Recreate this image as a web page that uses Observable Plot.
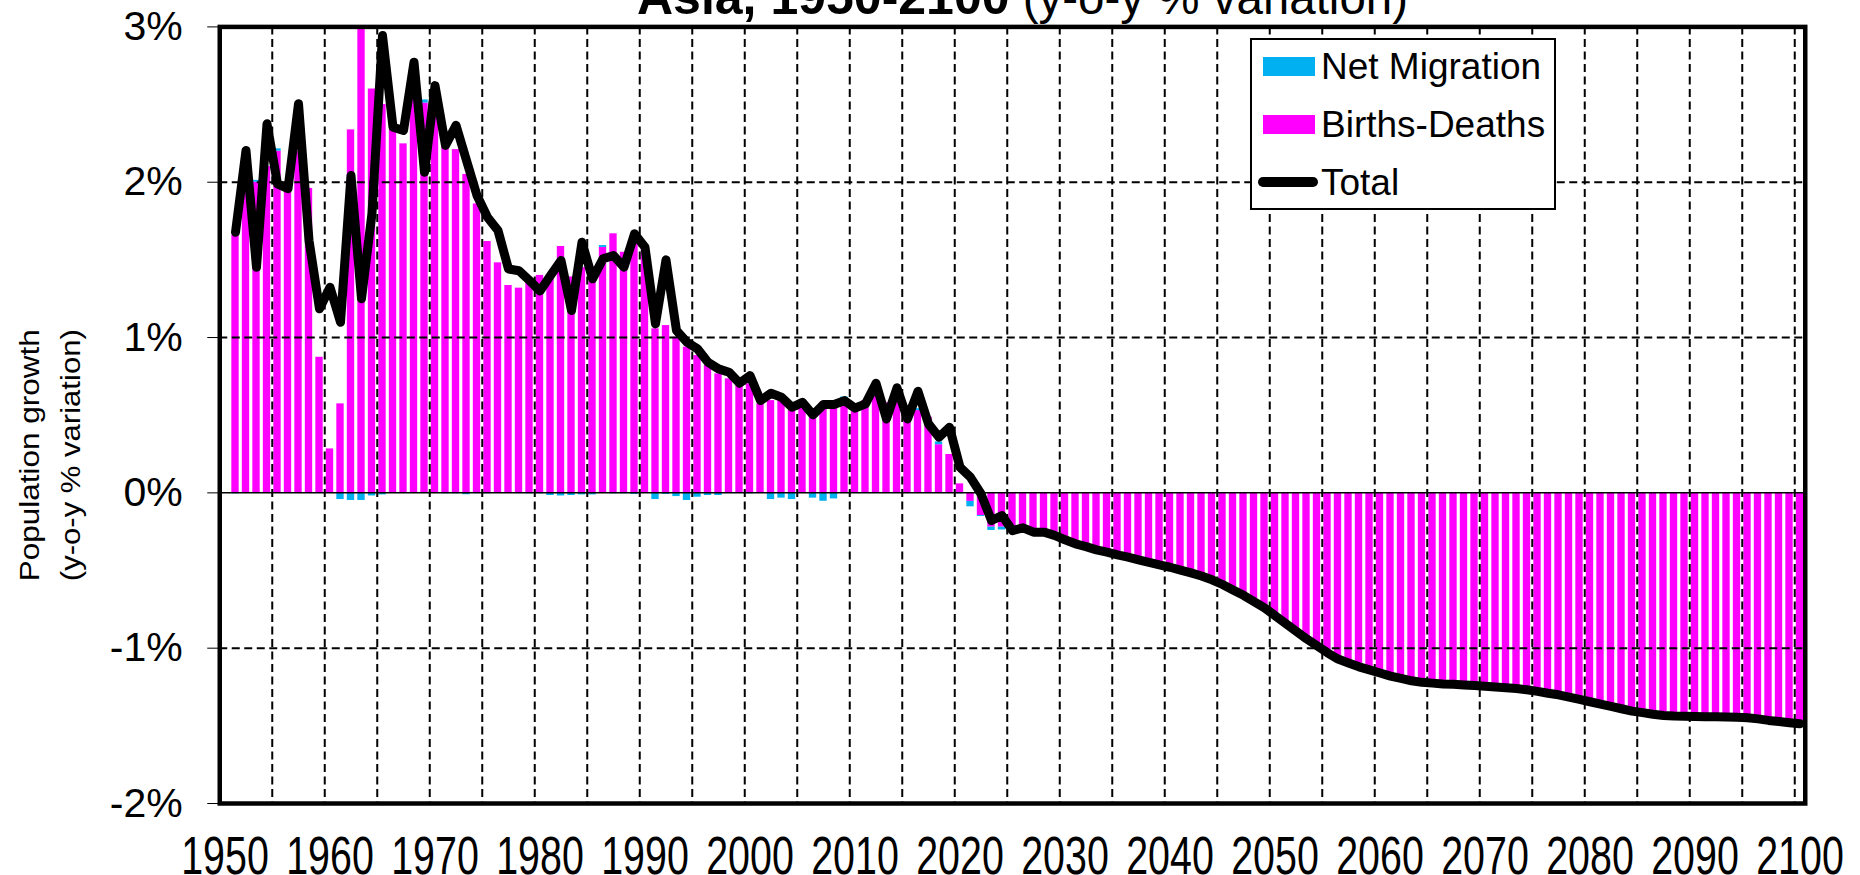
<!DOCTYPE html>
<html>
<head>
<meta charset="utf-8">
<script src="https://cdn.jsdelivr.net/npm/d3@7"></script>
<script src="https://cdn.jsdelivr.net/npm/@observablehq/plot@0.6"></script>
<style>
  html, body { margin: 0; padding: 0; background: #fff; }
  #wrap { position: relative; width: 1860px; height: 875px; overflow: hidden;
          font-family: "Liberation Sans", Arial, sans-serif; color: #000; }
  #chart { position: absolute; left: 0; top: 0; }
  #title { position: absolute; left: 637px; top: -28px; font-size: 50px; line-height: 50px; white-space: nowrap; }
  #title .reg { font-size: 47.5px; }
  #legend { position: absolute; left: 1250px; top: 38px; width: 302px; height: 168px;
            border: 2px solid #000; background: #fff; }
  #legend .sw { position: absolute; left: 11px; width: 52px; height: 19px; }
  #legend .ln { position: absolute; left: 6px; width: 60px; height: 10px; border-radius: 5px; background: #000; }
  #legend .tx { position: absolute; left: 69px; font-size: 37px; line-height: 37px; white-space: nowrap; }
</style>
</head>
<body>
<div id="wrap">
  <div id="chart"></div>
  <div id="title"><b>Asia, 1950-2100</b><span class="reg"> (y-o-y % variation)</span></div>
  <div id="legend"></div>
</div>
<script>
// ---------- data ----------
const years = d3.range(1951, 2101);
const decadeLabels = d3.range(1950, 2101, 10);
const yTicks = [-2, -1, 0, 1, 2, 3];
const seriesNames = ["Net Migration", "Births-Deaths"];
const seriesColors = ["#00B0F0", "#FF00FF"];
const totalName = "Total";
const yTitleLines = ["Population growth", "(y-o-y % variation)"];

// Total population growth, % (line)
const total = [
  1.678, 2.204, 1.453, 2.376, 1.989, 1.958, 2.505, 1.625, 1.185, 1.324,
  1.099, 2.043, 1.250, 1.800, 2.944, 2.354, 2.333, 2.773, 2.064, 2.622,
  2.237, 2.366, 2.140, 1.914, 1.775, 1.689, 1.441, 1.430, 1.367, 1.300,
  1.399, 1.496, 1.174, 1.614, 1.378, 1.507, 1.528, 1.453, 1.668, 1.581,
  1.088, 1.500, 1.045, 0.970, 0.927, 0.841, 0.798, 0.777, 0.706, 0.755,
  0.594, 0.641, 0.616, 0.551, 0.583, 0.502, 0.569, 0.569, 0.594, 0.545,
  0.573, 0.706, 0.476, 0.676, 0.476, 0.654, 0.444, 0.358, 0.422, 0.165,
  0.100, -0.006, -0.178, -0.146, -0.243, -0.225, -0.253, -0.253, -0.274, -0.302,
  -0.328, -0.346, -0.367, -0.382, -0.399, -0.414, -0.431, -0.447, -0.464, -0.479,
  -0.497, -0.515, -0.535, -0.560, -0.590, -0.625, -0.660, -0.700, -0.740, -0.790,
  -0.840, -0.890, -0.940, -0.985, -1.030, -1.070, -1.095, -1.120, -1.140, -1.160,
  -1.180, -1.195, -1.210, -1.220, -1.225, -1.230, -1.233, -1.237, -1.241, -1.245,
  -1.250, -1.255, -1.260, -1.268, -1.278, -1.290, -1.300, -1.315, -1.330, -1.345,
  -1.360, -1.375, -1.390, -1.405, -1.415, -1.425, -1.433, -1.437, -1.439, -1.440,
  -1.441, -1.442, -1.443, -1.445, -1.448, -1.455, -1.465, -1.472, -1.480, -1.487
];

// Births-Deaths, % (magenta bars)
const birthsDeaths = [
  1.657, 1.980, 2.000, 2.100, 2.200, 1.970, 2.200, 1.960, 0.873, 0.283,
  0.573, 2.337, 3.000, 2.600, 2.500, 2.340, 2.247, 2.550, 2.510, 2.470,
  2.230, 2.210, 2.050, 1.860, 1.618, 1.481, 1.335, 1.318, 1.360, 1.400,
  1.406, 1.586, 1.390, 1.450, 1.360, 1.580, 1.668, 1.549, 1.620, 1.590,
  1.056, 1.077, 1.002, 0.938, 0.884, 0.820, 0.766, 0.734, 0.691, 0.702,
  0.573, 0.594, 0.594, 0.530, 0.583, 0.487, 0.583, 0.594, 0.605, 0.530,
  0.594, 0.620, 0.580, 0.600, 0.560, 0.530, 0.487, 0.310, 0.247, 0.058,
  -0.055, -0.146, -0.221, -0.221, -0.235, -0.220, -0.248, -0.248, -0.269, -0.297,
  -0.323, -0.341, -0.362, -0.377, -0.394, -0.414, -0.431, -0.447, -0.464, -0.479,
  -0.497, -0.515, -0.535, -0.560, -0.590, -0.625, -0.660, -0.700, -0.740, -0.790,
  -0.840, -0.890, -0.940, -0.985, -1.030, -1.070, -1.095, -1.120, -1.140, -1.160,
  -1.180, -1.195, -1.210, -1.220, -1.225, -1.230, -1.233, -1.237, -1.241, -1.245,
  -1.250, -1.255, -1.260, -1.268, -1.278, -1.290, -1.300, -1.315, -1.330, -1.345,
  -1.360, -1.375, -1.390, -1.405, -1.415, -1.425, -1.433, -1.437, -1.439, -1.440,
  -1.441, -1.442, -1.443, -1.445, -1.448, -1.455, -1.465, -1.472, -1.480, -1.487
];

// Net migration, % (blue bars)
const netMigration = [
  -0.006, 0, 0.012, 0, 0.015, 0, 0, 0, 0, 0,
  -0.043, -0.049, -0.049, -0.020, -0.013, 0, 0, 0, 0.020, 0,
  -0.006, -0.006, -0.012, -0.005, -0.006, -0.004, -0.004, -0.005, -0.006, -0.006,
  -0.017, -0.020, -0.017, -0.013, -0.013, 0.012, -0.006, -0.006, -0.010, 0.012,
  -0.043, -0.010, -0.024, -0.049, -0.028, -0.017, -0.017, 0, -0.004, -0.006,
  0, -0.043, -0.034, -0.043, 0, -0.034, -0.054, -0.039, 0.012, -0.004,
  0, 0, 0, 0, 0, 0.012, 0, 0.018, 0, -0.006,
  -0.035, -0.006, -0.021, -0.018, -0.008, -0.005, -0.005, -0.005, -0.005, -0.005,
  -0.005, -0.005, -0.005, -0.005, -0.005, 0, 0, 0, 0, 0,
  0, 0, 0, 0, 0, 0, 0, 0, 0, 0,
  0, 0, 0, 0, 0, 0, 0, 0, 0, 0,
  0, 0, 0, 0, 0, 0, 0, 0, 0, 0,
  0, 0, 0, 0, 0, 0, 0, 0, 0, 0,
  0, 0, 0, 0, 0, 0, 0, 0, 0, 0,
  0, 0, 0, 0, 0, 0, 0, 0, 0, 0
];

// ---------- tables for the library ----------
const rows = years.flatMap((year, i) => [
  {year, series: "Births-Deaths", value: birthsDeaths[i]},
  {year, series: "Net Migration", value: netMigration[i]}
]);
const totalRows = years.map((year, i) => ({year, value: total[i]}));
const gridYears = d3.range(1954.5, 2100, 5);

const dash = {stroke: "black", strokeWidth: 2, strokeDasharray: "8,4.5"};

const plot = Plot.plot({
  width: 1860,
  height: 875,
  marginLeft: 219.25,
  marginRight: 55.25,
  marginTop: 26.4,
  marginBottom: 72,
  style: {fontFamily: '"Liberation Sans", Arial, sans-serif', background: "transparent", color: "black"},
  x: {domain: [1949.5, 2100.5], axis: null},
  y: {domain: [-2, 3], axis: null},
  color: {domain: seriesNames, range: seriesColors},
  marks: [
    Plot.rectY(rows, Plot.stackY({x1: d => d.year - 0.35, x2: d => d.year + 0.35, y: "value", fill: "series"})),
    Plot.ruleX(gridYears, dash),
    Plot.ruleY([-1, 1, 2], dash),
    Plot.ruleY([0], {stroke: "black", strokeWidth: 1.5}),
    Plot.line(totalRows, {x: "year", y: "value", stroke: "black", strokeWidth: 9,
      strokeLinejoin: "round", strokeLinecap: "round"}),
    Plot.frame({stroke: "black", strokeWidth: 4.5}),
    Plot.axisY({ticks: yTicks, tickFormat: d => `${d}%`, tickSize: 12, tickPadding: 25,
      fontSize: 41, label: null, strokeWidth: 1}),
    Plot.text(decadeLabels, {x: d => d, text: d => String(d), frameAnchor: "bottom",
      lineAnchor: "bottom", textAnchor: "middle", dy: 70, fontSize: 53}),
    Plot.text([yTitleLines[0]], {frameAnchor: "left", rotate: -90, textAnchor: "middle",
      lineAnchor: "middle", dx: -189, dy: 40, fontSize: 27}),
    Plot.text([yTitleLines[1]], {frameAnchor: "left", rotate: -90, textAnchor: "middle",
      lineAnchor: "middle", dx: -148, dy: 40, fontSize: 27})
  ]
});

document.getElementById("chart").appendChild(plot);

// narrow, tall axis lettering as in the reference
const xLabelSet = new Set(decadeLabels.map(String));
const yTitleSet = new Set(yTitleLines);
d3.select(plot).selectAll("text")
  .filter(function() { return xLabelSet.has(this.textContent); })
  .attr("textLength", 87.6).attr("lengthAdjust", "spacingAndGlyphs");
d3.select(plot).selectAll("text")
  .filter(function() { return yTitleSet.has(this.textContent); })
  .attr("textLength", 252).attr("lengthAdjust", "spacingAndGlyphs");

// ---------- legend ----------
const legend = d3.select("#legend");
const legendItems = [
  {name: seriesNames[0], color: seriesColors[0], type: "swatch", top: 17},
  {name: seriesNames[1], color: seriesColors[1], type: "swatch", top: 75},
  {name: totalName, color: "#000", type: "line", top: 137}
];
legendItems.forEach(it => {
  if (it.type === "swatch") {
    legend.append("div").attr("class", "sw").style("top", it.top + "px").style("background", it.color);
  } else {
    legend.append("div").attr("class", "ln").style("top", it.top + "px");
  }
  const center = it.type === "swatch" ? it.top + 9.5 : it.top + 5;
  legend.append("div").attr("class", "tx").style("top", (center - 18.5) + "px").text(it.name);
});
</script>
</body>
</html>
